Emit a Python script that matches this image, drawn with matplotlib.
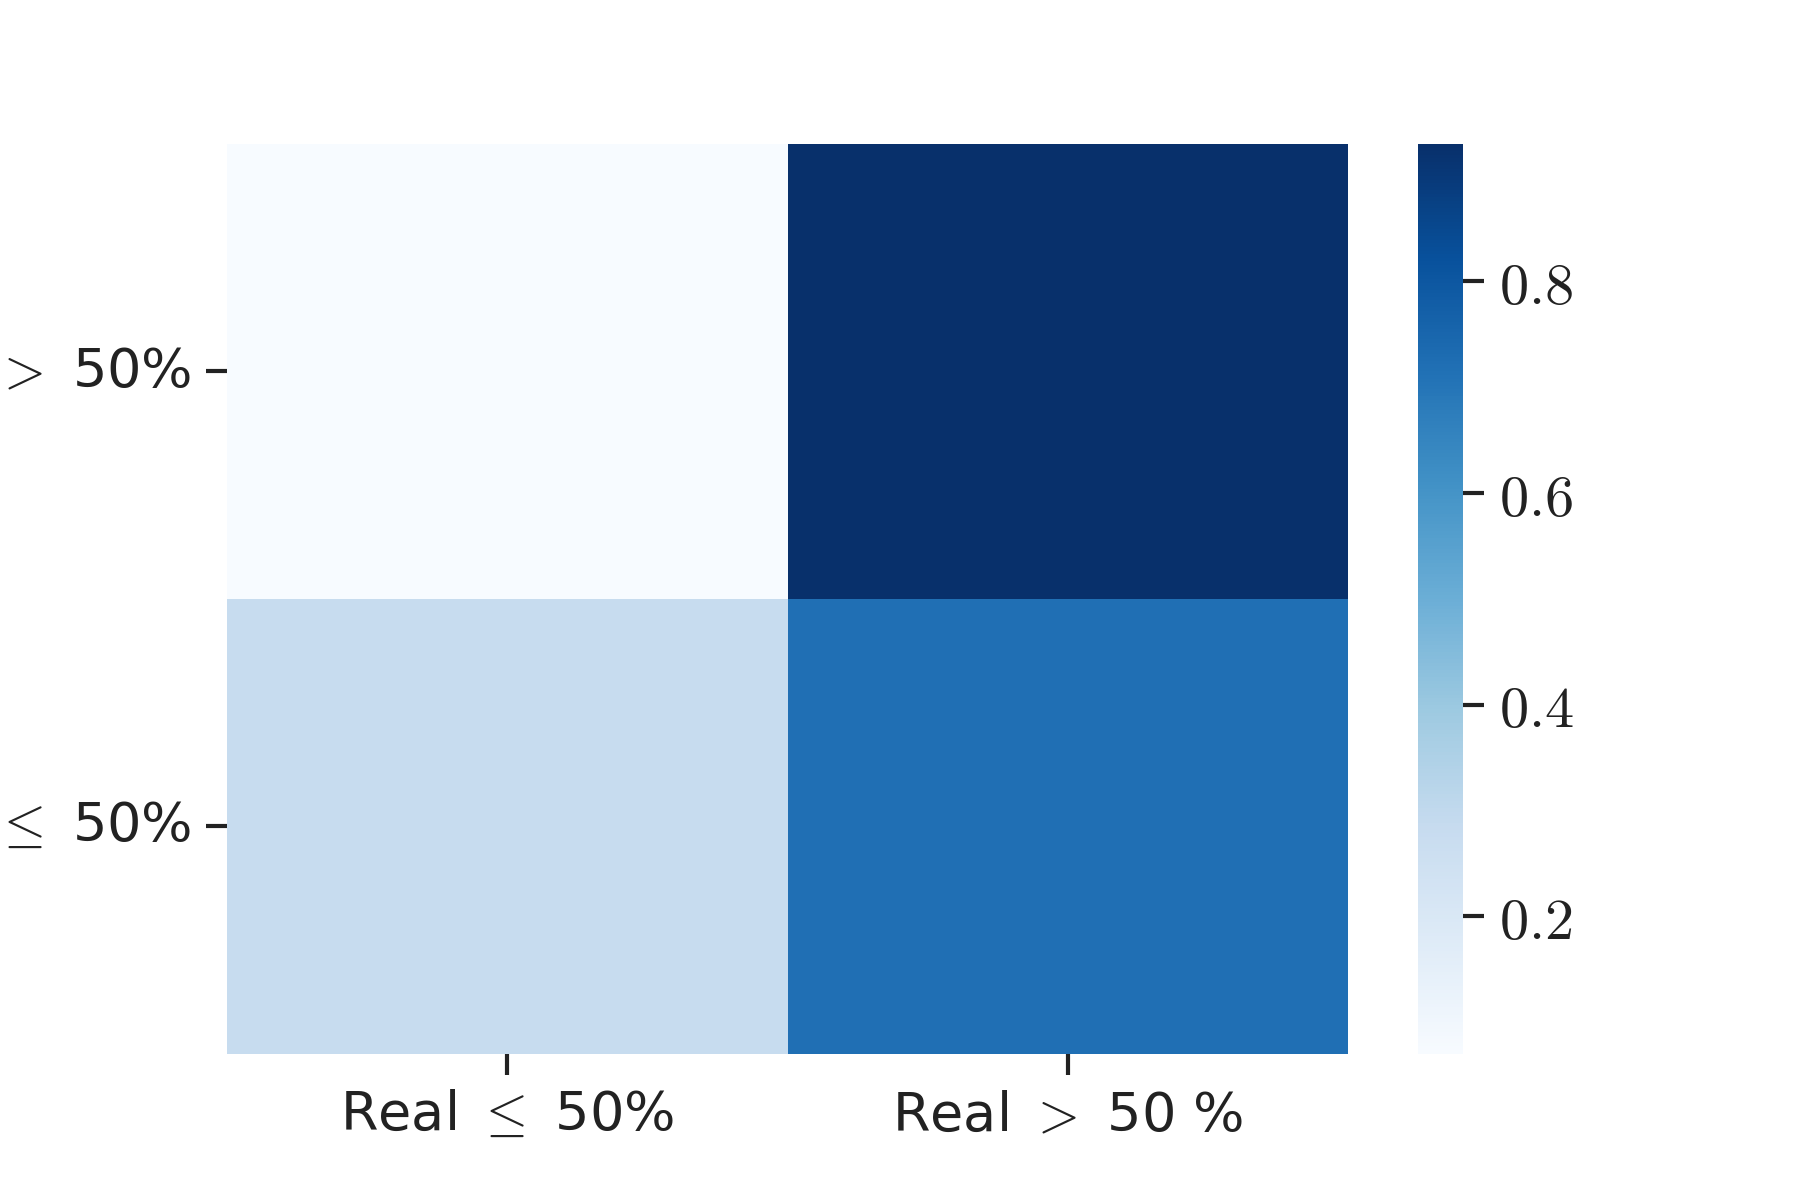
import numpy as np
import matplotlib
matplotlib.use("Agg")
import matplotlib.pyplot as plt
import seaborn as sns

# normalized confusion matrix (rows = predicted, cols = real)
row_labels = [r"Pred $>$ 50%", r"Pred $\leq$ 50%"]
col_labels = [r"Real $\leq$ 50%", r"Real $>$ 50 %"]
values = np.array([[0.07, 0.93],
                   [0.28, 0.72]])

sns.set_theme(style="white")
plt.rcParams['font.family'] = ['DejaVu Sans']
plt.rcParams['mathtext.fontset'] = 'cm'

fig = plt.figure(figsize=(6, 4), dpi=300)
ax = fig.add_axes([0.126, 0.122, 0.623, 0.758])
cax = fig.add_axes([0.788, 0.122, 0.025, 0.758])

sns.heatmap(values, cmap="Blues", ax=ax, cbar_ax=cax,
            xticklabels=col_labels, yticklabels=row_labels)

ax.tick_params(axis='both', length=5, width=1, color='#222222', bottom=True, left=True,
               labelsize=13, labelcolor='#222222')
ax.set_yticklabels(row_labels, rotation=0, fontsize=13, color='#222222')
ax.set_xticklabels(col_labels, rotation=0, fontsize=13, color='#222222')

cax.set_yticks([0.2, 0.4, 0.6, 0.8])
cax.set_yticklabels([r"$0.2$", r"$0.4$", r"$0.6$", r"$0.8$"])
cax.tick_params(axis='y', length=5, width=1, color='#222222', right=True,
                labelsize=14, labelcolor='#222222')
for s in cax.spines.values():
    s.set_visible(False)

fig.savefig("out.png", dpi=300)
